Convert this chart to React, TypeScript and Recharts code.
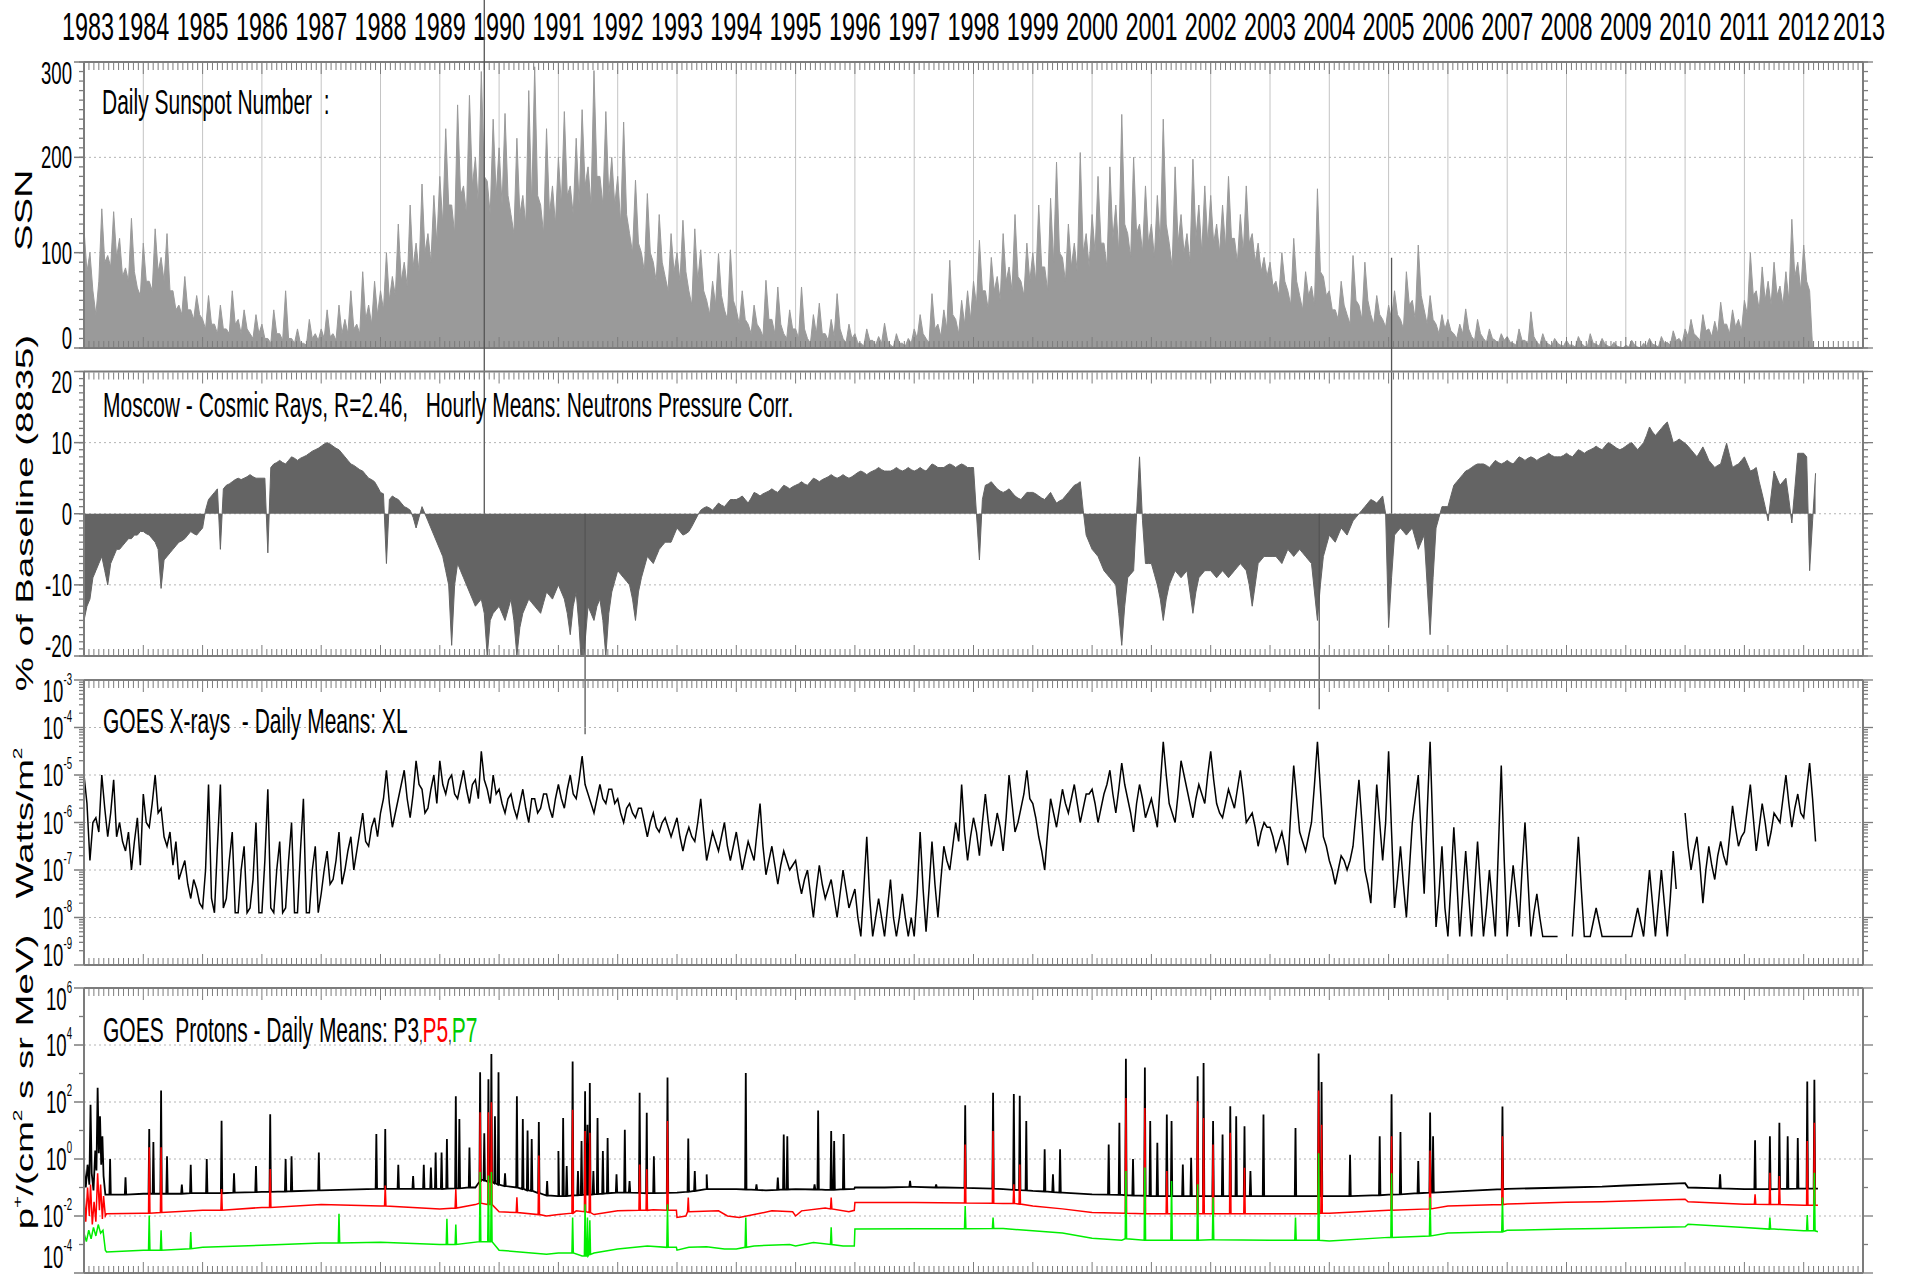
import React from "react";
import { ComposedChart, Area, Line, XAxis, YAxis, CartesianGrid, ReferenceLine } from "recharts";

const W = 1907;
const H = 1274;
const X_LEFT = 84;
const X_RIGHT = 1863;
const FONT = "'Liberation Sans', Arial, Helvetica, sans-serif";
const FRAME = "#7c7c7c";

// ---- axes ----
const YEARS = [
  1983, 1984, 1985, 1986, 1987, 1988, 1989, 1990, 1991, 1992, 1993, 1994, 1995, 1996, 1997, 1998,
  1999, 2000, 2001, 2002, 2003, 2004, 2005, 2006, 2007, 2008, 2009, 2010, 2011, 2012, 2013,
];
const MONTHS = Array.from({ length: 361 }, (_, i) => 1983 + i / 12);

const SSN_TICKS = [0, 100, 200, 300];
const SSN_MINOR = Array.from({ length: 31 }, (_, i) => i * 10);
const CR_TICKS = [-20, -10, 0, 10, 20];
const CR_MINOR = Array.from({ length: 41 }, (_, i) => i - 20);
const XR_TICKS = [1e-9, 1e-8, 1e-7, 1e-6, 1e-5, 1e-4, 1e-3];
const XR_MINOR = [-9, -8, -7, -6, -5, -4].flatMap((k) => [2, 3, 4, 5, 6, 7, 8, 9].map((m) => m * 10 ** k));
const PR_TICKS = [1e-4, 1e-2, 1, 1e2, 1e4, 1e6];
const PR_MINOR = [1e-3, 1e-1, 1e1, 1e3, 1e5];

// ---- data: main samples every 0.1 year from 1983.0, *_MID = samples half a step later ----
const SSN = [
  125, 100, 35, 146, 97, 143, 115, 84, 136, 63,
  110, 70, 125, 95, 120, 60, 45, 75, 40, 55,
  30, 55, 25, 45, 20, 60, 30, 40, 15, 35,
  25, 10, 40, 15, 60, 10, 20, 5, 30, 15,
  20, 40, 15, 45, 30, 60, 25, 80, 45, 70,
  60, 100, 75, 130, 90, 150, 110, 172, 120, 160,
  180, 230, 150, 255, 170, 265, 200, 290, 175, 240,
  210, 246, 140, 220, 160, 270, 295, 150, 230, 170,
  200, 248, 170, 220, 250, 190, 291, 180, 248, 200,
  180, 237, 120, 176, 100, 162, 90, 140, 75, 120,
  100, 134, 60, 125, 103, 50, 70, 99, 40, 103,
  40, 60, 25, 45, 20, 71, 30, 64, 15, 40,
  20, 64, 10, 35, 47, 15, 30, 57, 10, 25,
  15, 5, 20, 8, 12, 26, 3, 15, 5, 10,
  20, 35, 10, 57, 25, 40, 92, 30, 50, 60,
  70, 113, 60, 95, 75, 120, 85, 140, 70, 110,
  100, 150, 85, 157, 195, 95, 130, 110, 205, 120,
  140, 180, 110, 190, 150, 245, 120, 200, 130, 170,
  130, 160, 240, 110, 190, 140, 120, 198, 150, 170,
  160, 130, 150, 180, 115, 140, 170, 120, 110, 95,
  90, 70, 100, 60, 115, 55, 80, 65, 167, 75,
  60, 40, 70, 35, 97, 45, 90, 35, 55, 30,
  45, 60, 30, 80, 50, 108, 40, 55, 25, 35,
  30, 15, 25, 41, 12, 30, 10, 20, 8, 15,
  12, 5, 20, 8, 38, 6, 15, 4, 10, 3,
  8, 3, 12, 2, 15, 4, 10, 2, 6, 1,
  3, 8, 1, 5, 10, 3, 12, 6, 18, 10,
  20, 30, 12, 35, 20, 28, 48, 25, 40, 30,
  50, 100, 60, 85, 70, 90, 65, 80, 135, 90,
  108, 60, 0,
];
const SSN_MID = [
  80, 60, 70, 90, 85, 95, 75, 70, 80, 55,
  70, 60, 80, 70, 60, 40, 35, 40, 30, 35,
  20, 25, 15, 20, 15, 25, 15, 20, 10, 15,
  10, 5, 15, 8, 10, 5, 5, 3, 10, 8,
  10, 12, 8, 15, 15, 20, 15, 30, 25, 35,
  40, 50, 55, 70, 65, 85, 80, 100, 90, 110,
  130, 150, 120, 160, 140, 170, 150, 180, 140, 160,
  150, 160, 120, 140, 130, 150, 160, 120, 140, 130,
  150, 160, 140, 150, 170, 150, 180, 150, 160, 150,
  130, 140, 100, 110, 80, 100, 70, 90, 60, 80,
  70, 80, 45, 70, 60, 35, 45, 55, 30, 50,
  25, 30, 15, 25, 12, 30, 15, 25, 10, 20,
  10, 20, 5, 15, 15, 8, 12, 20, 5, 10,
  5, 2, 8, 3, 5, 8, 1, 5, 2, 5,
  10, 15, 5, 20, 12, 20, 35, 15, 25, 30,
  45, 60, 40, 60, 50, 70, 60, 75, 55, 70,
  70, 85, 60, 90, 100, 70, 85, 80, 100, 85,
  100, 110, 85, 115, 100, 130, 95, 120, 100, 110,
  95, 110, 130, 85, 110, 100, 90, 115, 100, 110,
  110, 100, 105, 115, 90, 100, 110, 90, 80, 75,
  65, 55, 70, 45, 70, 40, 55, 45, 80, 55,
  40, 30, 45, 25, 50, 30, 50, 25, 35, 22,
  30, 35, 20, 45, 30, 55, 25, 30, 15, 20,
  18, 10, 15, 20, 8, 15, 6, 10, 5, 8,
  6, 3, 8, 4, 12, 3, 6, 2, 5, 2,
  3, 1, 5, 1, 5, 2, 4, 1, 2, 0,
  1, 3, 0, 2, 4, 1, 5, 3, 8, 5,
  12, 15, 8, 18, 12, 15, 25, 15, 22, 18,
  35, 55, 40, 50, 45, 55, 45, 50, 75, 60,
  70, 0,
];

const CR = [
  -15, -12, -8, -6, -10, -6, -5, -4, -3.5, -3,
  -2.5, -3, -4, -10.5, -6, -5, -4, -3.5, -2.5, -3,
  -2, 2, 3, -5, 4, 4.5, 5, 5, 5.5, 5,
  5, -5.5, 7, 7.5, 7, 8, 7.5, 8, 8.5, 9,
  9.5, 10, 9.5, 9, 8, 7, 6.5, 6, 5, 4.5,
  3, -7, 2.5, 2, 1, 0.5, -2, 1, -1, -3,
  -5, -8, -18.5, -7, -9, -11, -13, -12, -20, -14,
  -13, -15, -12, -20, -14, -12, -13, -14, -11, -12,
  -10, -12, -17, -11, -23, -13, -15, -12, -20, -11,
  -8, -9, -10, -15, -9, -6, -7, -5, -4, -4,
  -2, -3, -2.5, -1, 0.5, 1, 0.5, 1.5, 1, 2,
  2, 2.5, 1.5, 3, 2.5, 3, 3.5, 3, 4, 3.5,
  4, 4.5, 4, 5, 4.5, 5, 5.5, 5, 5.5, 5,
  5.5, 6, 5.5, 6, 6.5, 6, 6, 6.5, 6, 6.5,
  6, 6.5, 6, 7, 6.5, 6.5, 7, 6.5, 7, 6.5,
  6.5, -6.5, 4, 4.5, 3.5, 3, 3.5, 2.5, 2, 3,
  3, 2.5, 2, 3, 1.5, 2, 3, 4, 4.5, -3,
  -5, -6, -8, -9, -10, -18.5, -9, -8, 8, -7,
  -7, -10, -15, -10, -8, -9, -8, -14, -9, -8,
  -8, -9, -8, -9, -8, -7, -8, -13, -7, -6,
  -6, -6, -7, -5, -6, -5, -6, -7, -15, -6,
  -3, -4, -2, -3, -1, 0, 1, 2, 1.5, 2.5,
  -16, -3, -2, -3, -2, -5, -3, -17, -2, 1,
  1, 4, 5, 6, 6.5, 7, 7, 6.5, 7.5, 7,
  7.5, 7, 8, 7.5, 8, 7.5, 8, 8.5, 8, 8,
  8.5, 8, 9, 8.5, 9, 9.5, 9, 10, 9.5, 9,
  9.5, 10, 9, 10, 12.2, 11, 12, 12.9, 10, 10.5,
  9.9, 9, 8, 9.4, 7.5, 6.5, 7, 9.9, 6.5, 7,
  8, 6, 6.5, 2.8, -1, 6, 4, 5, -1.3, 8.5,
  8.5, -8, 5.7,
];
const CR_MID = [
  -13, -9, -7, -8, -7, -5, -4.5, -3.5, -3, -2.5,
  -2.8, -3.5, -5, -6.5, -5.5, -4.5, -3.8, -3, -2.8, -2.5,
  0.5, 2.5, 3.5, 3.5, 4.2, 4.8, 4.8, 5.2, 5.2, 5,
  5, 6.5, 7.2, 7.2, 7.5, 7.8, 7.8, 8.2, 8.8, 9.2,
  9.8, 9.8, 9.2, 8.5, 7.5, 6.8, 6.2, 5.5, 4.8, 3.8,
  2.8, 2, 2.2, 1.5, 0.8, -0.5, -0.5, 0, -2, -4,
  -6, -10, -10, -8, -10, -12, -12.5, -14, -15, -13.5,
  -14, -13.5, -15, -16, -13, -12.5, -13.5, -12.5, -11.5, -11,
  -11, -14, -13, -16, -18, -14, -13, -15, -14, -9.5,
  -8.5, -9.5, -12, -11, -7.5, -6.5, -6, -4.5, -4, -3,
  -2.5, -2.8, -1.8, -0.2, 0.8, 0.8, 1, 1.2, 1.5, 2,
  2.2, 2, 2.2, 2.8, 2.8, 3.2, 3.2, 3.5, 3.8, 3.8,
  4.2, 4.2, 4.5, 4.8, 4.8, 5.2, 5.2, 5.2, 5.2, 5.2,
  5.8, 5.8, 5.8, 6.2, 6.2, 6, 6.2, 6.2, 6.2, 6.2,
  6.2, 6.2, 6.5, 6.8, 6.5, 6.8, 6.8, 6.8, 6.8, 6.5,
  0, 2, 4.2, 4, 3.2, 3.2, 3, 2.2, 2.5, 3,
  2.8, 2.2, 2.5, 2.2, 1.8, 2.5, 3.5, 4.2, 0.5, -4,
  -5.5, -7, -8.5, -9.5, -14, -13, -8.5, 0, -1, -7,
  -8.5, -12, -12, -9, -8.5, -8.5, -11, -11, -8.5, -8,
  -8.5, -8.5, -8.5, -8.5, -7.5, -7.5, -10, -10, -6.5, -6,
  -6, -6.5, -6, -5.5, -5.5, -5.5, -6.5, -11, -10, -4.5,
  -3.5, -3, -2.5, -2, -0.5, 0.5, 1.5, 1.8, 2, 0,
  -9, -2.5, -2.5, -2.5, -3.5, -4, -10, -9, -0.5, 1,
  2.5, 4.5, 5.5, 6.2, 6.8, 7, 6.8, 7, 7.2, 7.2,
  7.2, 7.5, 7.8, 7.8, 7.8, 7.8, 8.2, 8.2, 8, 8.2,
  8.2, 8.5, 8.8, 8.8, 9.2, 9.2, 9.5, 9.8, 9.2, 9.2,
  9.8, 9.5, 9.5, 11, 11.5, 11.5, 12.5, 11.5, 10.2, 10.2,
  9.5, 8.5, 8.7, 8.5, 7, 6.8, 8.5, 8.2, 6.8, 7.5,
  7, 6.2, 4.5, 1, 2.5, 5, 4.5, 2, 3.5, 8.5,
  8, -1,
];

// cosmic-ray excursions that run past the panel edges: [year, %]
const CR_SPIKES = [
  [1989.75, 75],
  [1991.45, -31],
  [2003.83, -27.5],
  [2005.05, 36],
];

// GOES X-ray daily means, log10(W/m^2); null = no data
const XRAY_EXP: (number | null)[] = [
  -5.0, -6.8, -5.9, -5.0, -6.3, -5.1, -6.0, -6.6, -7.0, -5.9,
  -5.4, -6.1, -5.0, -5.7, -6.5, -6.9, -7.2, -6.8, -7.6, -7.4,
  -7.8, -5.2, -7.9, -5.2, -7.6, -6.2, -7.9, -6.5, -7.8, -6.0,
  -7.9, -5.3, -7.9, -6.4, -7.8, -6.0, -7.9, -5.5, -7.9, -6.5,
  -7.5, -6.6, -7.2, -6.2, -7.0, -6.3, -6.6, -5.8, -6.5, -5.9,
  -5.8, -4.9, -6.1, -5.5, -4.9, -5.9, -4.7, -5.3, -5.7, -5.0,
  -4.7, -5.4, -5.0, -5.5, -4.9, -5.6, -5.1, -4.5, -5.3, -5.0,
  -5.3, -5.8, -5.4, -5.9, -5.3, -6.0, -5.5, -5.7, -5.4, -5.9,
  -5.2, -5.7, -5.0, -5.5, -4.6, -5.4, -5.8, -5.2, -5.6, -5.3,
  -5.5, -6.0, -5.6, -5.9, -5.7, -6.3, -5.8, -6.2, -5.9, -6.3,
  -5.9, -6.6, -6.1, -6.4, -5.5, -6.8, -6.2, -6.6, -6.0, -6.8,
  -6.2, -7.0, -6.4, -6.8, -5.6, -7.1, -6.5, -7.3, -6.6, -7.0,
  -6.8, -7.5, -7.0, -8.0, -6.9, -7.6, -7.2, -8.0, -7.0, -7.8,
  -7.4, -8.4, -6.3, -8.4, -7.6, -8.4, -7.2, -8.4, -7.5, -8.4,
  -8.4, -6.2, -8.3, -6.4, -8.0, -6.5, -7.0, -6.0, -5.2, -6.8,
  -5.9, -6.7, -5.4, -6.5, -5.8, -6.6, -5.0, -6.2, -5.7, -4.9,
  -5.6, -6.3, -7.0, -5.5, -6.1, -5.3, -5.8, -5.2, -6.0, -5.4,
  -5.3, -6.0, -5.4, -4.9, -5.8, -4.75, -5.5, -6.2, -5.2, -5.9,
  -5.5, -6.1, -4.3, -5.6, -6.0, -4.7, -5.3, -5.9, -5.2, -5.6,
  -4.5, -5.6, -5.9, -5.3, -5.7, -4.9, -6.0, -5.8, -6.5, -6.0,
  -6.1, -6.6, -6.2, -6.9, -4.8, -6.2, -6.6, -6.0, -4.3, -6.3,
  -6.8, -7.3, -6.7, -7.0, -6.5, -5.1, -7.0, -7.7, -5.2, -6.8,
  -4.5, -7.8, -6.5, -8.0, -6.0, -5.0, -7.5, -4.3, -8.2, -6.5,
  -8.4, -6.1, -8.4, -6.6, -8.4, -6.4, -8.4, -7.0, -8.4, -4.8,
  -8.4, -6.9, -8.2, -6.0, -8.4, -7.5, -8.4, -8.4, -8.4, null,
  null, -8.4, -6.3, -8.4, -8.4, -7.8, -8.4, -8.4, -8.4, -8.4,
  -8.4, -8.4, -7.8, -8.4, -7.0, -8.4, -7.0, -8.4, -6.6, null,
  -5.8, -7.0, -6.3, -7.7, -6.5, -7.2, -6.4, -6.9, -5.65, -6.5,
  -6.2, -5.2, -6.6, -5.6, -6.5, -5.8, -6.0, -5.0, -6.1, -5.4,
  -5.9, -4.75, -6.4,
];
const XRAY_MID: (number | null)[] = [
  -5.6, -6.0, -6.2, -5.7, -5.8, -6.3, -6.4, -6.2, -6.4, -6.9,
  -6.0, -5.6, -5.8, -6.3, -6.2, -6.4, -7.0, -7.3, -7.2, -7.7,
  -7.0, -7.6, -6.5, -7.8, -6.8, -7.9, -7.0, -7.9, -7.2, -7.9,
  -6.8, -7.8, -7.0, -7.9, -6.8, -7.9, -6.6, -7.9, -7.0, -7.9,
  -7.0, -7.3, -6.8, -7.3, -6.6, -7.0, -6.2, -6.4, -6.1, -6.3,
  -5.5, -5.6, -5.8, -5.2, -5.5, -5.4, -5.2, -5.8, -5.3, -5.6,
  -5.2, -5.1, -5.4, -5.2, -5.3, -5.2, -5.5, -5.1, -5.6, -5.4,
  -5.6, -5.5, -5.7, -5.6, -5.7, -5.5, -5.8, -5.4, -5.7, -5.5,
  -5.5, -5.3, -5.4, -5.1, -5.2, -5.6, -5.5, -5.5, -5.3, -5.6,
  -5.8, -5.7, -5.8, -5.7, -6.0, -6.0, -6.1, -6.0, -6.1, -6.1,
  -6.3, -6.3, -6.3, -6.0, -6.2, -6.5, -6.4, -6.3, -6.5, -6.5,
  -6.6, -6.7, -6.6, -6.2, -6.5, -6.8, -6.9, -6.9, -6.8, -6.9,
  -7.2, -7.2, -7.5, -7.4, -7.3, -7.4, -7.6, -7.5, -7.4, -7.6,
  -8.0, -7.4, -7.6, -8.0, -8.0, -7.8, -8.0, -8.0, -8.0, -8.0,
  -7.5, -7.4, -7.4, -7.3, -7.2, -6.8, -6.5, -6.4, -6.2, -6.3,
  -6.2, -6.0, -6.0, -6.2, -6.1, -5.9, -5.6, -6.0, -5.4, -5.5,
  -5.9, -6.6, -6.2, -5.8, -5.7, -5.6, -5.5, -5.6, -5.7, -5.4,
  -5.6, -5.7, -5.2, -5.4, -5.3, -5.2, -5.8, -5.6, -5.5, -5.7,
  -5.8, -5.2, -5.0, -5.8, -5.4, -5.0, -5.6, -5.5, -5.4, -5.0,
  -5.1, -5.8, -5.6, -5.5, -5.3, -5.4, -5.9, -6.1, -6.2, -6.1,
  -6.3, -6.4, -6.5, -5.8, -5.5, -6.4, -6.3, -5.2, -5.3, -6.5,
  -7.0, -7.0, -6.8, -6.8, -5.8, -6.0, -7.3, -6.4, -6.0, -6.0,
  -6.2, -7.2, -7.3, -7.0, -5.5, -6.3, -5.8, -6.3, -7.5, -7.8,
  -7.3, -7.2, -7.5, -7.5, -7.4, -7.4, -7.8, -7.7, -6.6, -6.8,
  -7.6, -7.5, -7.0, -7.2, -7.9, -8.0, -8.4, -8.4, -8.4, null,
  null, -7.4, -7.4, -8.4, -8.1, -8.1, -8.4, -8.4, -8.4, -8.4,
  -8.4, -8.1, -8.1, -7.7, -7.7, -7.7, -7.7, -7.6, -7.4, null,
  -6.5, -6.6, -6.9, -7.0, -6.9, -6.7, -6.7, -6.3, -6.1, -6.3,
  -5.7, -5.9, -6.1, -6.0, -6.2, -5.9, -5.5, -5.6, -5.7, -5.8,
  -5.3, -5.5,
];

// GOES protons, log10 flux. Base: [year, log]; spikes: [year, peak log, local base log]
const SPIKE_HALF = 0.012;
const P3_BASE = [
  [1983.0, -0.3], [1983.03, -1.0], [1983.06, -0.2], [1983.09, -0.9], [1983.11, 1.9], [1983.13, -0.5],
  [1983.16, -1.1], [1983.19, 0.3], [1983.21, -0.4], [1983.23, 2.5], [1983.25, 0.2], [1983.27, 1.5],
  [1983.29, -0.2], [1983.31, 0.8], [1983.33, -0.6], [1983.36, -1.25], [1984, -1.22], [1985, -1.2],
  [1986, -1.15], [1987, -1.1], [1988, -1.05], [1989, -1.05], [1989.6, -1.0], [1989.7, -0.7],
  [1990, -0.9], [1990.5, -1.1], [1991, -1.3], [1991.5, -1.25], [1992, -1.18], [1992.5, -1.2],
  [1993, -1.18], [1993.5, -1.06], [1994, -1.06], [1994.5, -1.1], [1995, -1.06], [1995.5, -1.08],
  [1995.99, -1.05], [1996, -1.0], [1996.5, -1.0], [1997, -0.98], [1997.5, -1.0], [1998, -1.02],
  [1998.5, -1.06], [1999, -1.12], [1999.5, -1.18], [2000, -1.24], [2000.5, -1.26], [2001, -1.3],
  [2002, -1.3], [2003, -1.3], [2004, -1.3], [2005, -1.25], [2006, -1.15], [2007, -1.05],
  [2008, -1.0], [2008.6, -0.97], [2009, -0.93], [2010, -0.85], [2010.05, -1.0], [2011, -1.06],
  [2012, -1.04], [2012.24, -1.04],
];
const P3_SPIKES = [
  [1983.44, 0, -1.25], [1983.7, -0.64, -1.25], [1984.1, 1.05, -1.22], [1984.17, 0.6, -1.22],
  [1984.3, 2.4, -1.22], [1984.4, 0.1, -1.22], [1984.65, -0.9, -1.22], [1984.8, -0.2, -1.2],
  [1985.07, 0, -1.2], [1985.32, 1.34, -1.2], [1985.53, -0.5, -1.18], [1985.9, -0.25, -1.16],
  [1986.14, 1.57, -1.15], [1986.4, 0, -1.14], [1986.5, 0.1, -1.13], [1986.96, 0.23, -1.1],
  [1987.93, 0.88, -1.05], [1988.08, 1.05, -1.05], [1988.3, -0.2, -1.05], [1988.55, -0.6, -1.05],
  [1988.73, -0.2, -1.05], [1988.85, -0.3, -1.05], [1988.93, 0.23, -1.05], [1989.03, 0.23, -1.05],
  [1989.12, 0.7, -1.04], [1989.27, 2.2, -1.03], [1989.33, 1.4, -1.03], [1989.5, 0.4, -1.0],
  [1989.68, 3.04, -0.8], [1989.75, 0.9, -0.75], [1989.82, 2.8, -0.8], [1989.87, 3.68, -0.8],
  [1989.93, 1.5, -0.85], [1989.99, 3.04, -0.9], [1990.1, -0.5, -0.95], [1990.3, 2.2, -1.0],
  [1990.4, 1.4, -1.05], [1990.48, 1.0, -1.1], [1990.55, 0.7, -1.12], [1990.67, 1.3, -1.2],
  [1990.81, -0.77, -1.28], [1991.0, 0.28, -1.3], [1991.08, 1.44, -1.3], [1991.14, -0.25, -1.3],
  [1991.24, 3.42, -1.28], [1991.33, -0.42, -1.27], [1991.39, 0.63, -1.26], [1991.45, 2.38, -1.25],
  [1991.49, 1.2, -1.25], [1991.53, 2.67, -1.25], [1991.59, -0.42, -1.24], [1991.66, 1.44, -1.23],
  [1991.75, 0.28, -1.22], [1991.83, 0.74, -1.2], [1991.98, -0.54, -1.18], [1992.12, 1.03, -1.18],
  [1992.2, -0.77, -1.18], [1992.37, 2.32, -1.19], [1992.49, 1.62, -1.2], [1992.61, 0.1, -1.2],
  [1992.84, 2.86, -1.19], [1993.19, 0.72, -1.15], [1993.3, -0.42, -1.12], [1993.5, -0.54, -1.06],
  [1994.16, 3.02, -1.07], [1994.34, -0.89, -1.08], [1994.7, -0.65, -1.08], [1994.8, 0.86, -1.07],
  [1994.86, 0.8, -1.07], [1995.32, -0.89, -1.07], [1995.38, 1.7, -1.07], [1995.6, 0.98, -1.08],
  [1995.65, 0.63, -1.08], [1995.81, 0.88, -1.06], [1996.93, -0.77, -0.98], [1997.37, -0.89, -1.0],
  [1997.86, 1.89, -1.01], [1998.33, 2.32, -1.04], [1998.68, 2.28, -1.08], [1998.78, 2.22, -1.09],
  [1998.89, 1.33, -1.1], [1999.2, 0.34, -1.14], [1999.34, -0.54, -1.16], [1999.46, 0.34, -1.18],
  [2000.28, 0.51, -1.25], [2000.46, 1.27, -1.26], [2000.57, 3.52, -1.27], [2000.69, 0, -1.28],
  [2000.89, 3.21, -1.29], [2000.98, 1.33, -1.3], [2001.1, 0.57, -1.3], [2001.26, 1.56, -1.3],
  [2001.34, 1.33, -1.3], [2001.53, -0.19, -1.3], [2001.67, 0.04, -1.3], [2001.78, 2.9, -1.3],
  [2001.88, 3.37, -1.3], [2002.04, 1.33, -1.3], [2002.2, 0.86, -1.3], [2002.33, 1.85, -1.3],
  [2002.43, 1.5, -1.3], [2002.57, 1.15, -1.3], [2002.67, -0.42, -1.3], [2002.89, 1.56, -1.3],
  [2003.43, 1.09, -1.3], [2003.82, 3.7, -1.3], [2003.87, 2.7, -1.3], [2004.35, 0.15, -1.3],
  [2004.85, 0.8, -1.27], [2005.05, 2.27, -1.25], [2005.2, 0.95, -1.24], [2005.5, -0.07, -1.2],
  [2005.7, 1.63, -1.18], [2005.75, 0.8, -1.18], [2006.92, 1.84, -1.06], [2010.59, -0.54, -1.03],
  [2011.18, 0.66, -1.06], [2011.43, 0.8, -1.06], [2011.59, 1.27, -1.05], [2011.73, 0.8, -1.05],
  [2011.9, 0.74, -1.04], [2012.06, 2.72, -1.04], [2012.18, 2.78, -1.04],
];

const P5_BASE = [
  [1983.0, -1.2], [1983.03, -2.2], [1983.06, -1.0], [1983.09, -2.0], [1983.11, -0.9], [1983.14, -2.3],
  [1983.17, -1.5], [1983.2, -2.2], [1983.23, -0.5], [1983.26, -1.8], [1983.28, -0.9], [1983.31, -2.1],
  [1983.33, -1.3], [1983.36, -2.0], [1983.38, -1.92], [1984, -1.9], [1985, -1.8], [1986, -1.7],
  [1987, -1.6], [1988, -1.65], [1989, -1.75], [1989.6, -1.6], [1990, -1.85], [1990.8, -2.0],
  [1991, -1.95], [1991.3, -1.82], [1991.6, -1.95], [1992, -1.82], [1992.6, -1.78], [1992.99, -1.8],
  [1993.0, -2.05], [1993.15, -2.0], [1993.2, -1.82], [1993.7, -1.82], [1993.85, -2.0], [1994.05, -2.05],
  [1994.3, -1.95], [1994.6, -1.82], [1994.95, -1.85], [1995.0, -2.0], [1995.1, -1.82], [1995.5, -1.72],
  [1995.9, -1.85], [1995.99, -1.8], [1996.0, -1.53], [1997, -1.53], [1998.5, -1.56], [1999, -1.65],
  [1999.5, -1.75], [2000, -1.88], [2001, -1.92], [2002, -1.92], [2003, -1.92], [2004, -1.9],
  [2005, -1.8], [2006, -1.65], [2007, -1.58], [2008, -1.52], [2008.6, -1.5], [2010, -1.41],
  [2010.05, -1.5], [2011, -1.59], [2012, -1.62], [2012.24, -1.62],
];
const P5_SPIKES = [
  [1984.1, 0.41, -1.9], [1984.3, 0.41, -1.88], [1985.32, -1.05, -1.8], [1986.14, -0.35, -1.7],
  [1988.08, -0.93, -1.65], [1989.27, -1.05, -1.72], [1989.68, 1.64, -1.55], [1989.82, 1.64, -1.6],
  [1989.87, 1.99, -1.6], [1990.3, -1.34, -1.88], [1990.67, 0.12, -1.95], [1991.24, 1.73, -1.9],
  [1991.45, 0.98, -1.85], [1991.53, 0.92, -1.88], [1992.37, -0.19, -1.8], [1992.49, -0.36, -1.8],
  [1992.84, 1.33, -1.8], [1993.19, -1.35, -1.85], [1995.6, -1.35, -1.75], [1997.86, 0.51, -1.54],
  [1998.33, 0.98, -1.55], [1998.68, -0.89, -1.56], [1998.78, -0.19, -1.58], [2000.57, 2.14, -1.9],
  [2000.89, 1.79, -1.92], [2001.26, -0.42, -1.92], [2001.78, 2.03, -1.92], [2001.88, 1.44, -1.92],
  [2002.04, 0.51, -1.92], [2002.33, 0.92, -1.92], [2002.57, -0.31, -1.92], [2003.82, 2.4, -1.92],
  [2003.87, 1.2, -1.9], [2005.05, 0.8, -1.8], [2005.7, 0.3, -1.75], [2006.92, 0.8, -1.6],
  [2011.18, -1.24, -1.59], [2011.43, -0.48, -1.6], [2011.59, -0.6, -1.6], [2012.06, 0.63, -1.62],
  [2012.18, 1.27, -1.62],
];

const P7_BASE = [
  [1983.0, -2.6], [1983.04, -2.9], [1983.08, -2.5], [1983.12, -2.8], [1983.16, -2.4], [1983.2, -2.7],
  [1983.24, -2.3], [1983.28, -2.6], [1983.32, -2.5], [1983.36, -3.2], [1983.38, -3.26], [1984, -3.2],
  [1985, -3.1], [1986, -3.03], [1987, -2.95], [1988, -2.92], [1989, -3.0], [1990, -3.2],
  [1990.8, -3.34], [1991, -3.3], [1991.4, -3.4], [1991.6, -3.3], [1992, -3.16], [1992.5, -3.05],
  [1992.99, -3.1], [1993.0, -3.2], [1993.2, -3.1], [1993.5, -3.08], [1993.8, -3.16], [1994, -3.16],
  [1994.3, -3.05], [1994.9, -3.0], [1995, -3.05], [1995.3, -2.93], [1995.8, -3.05], [1995.99, -3.05],
  [1996.0, -2.46], [1997, -2.45], [1998.5, -2.44], [1999, -2.52], [1999.5, -2.6], [2000, -2.78],
  [2000.5, -2.85], [2001, -2.85], [2002, -2.83], [2003, -2.85], [2004, -2.88], [2005, -2.75],
  [2006, -2.6], [2007, -2.5], [2008, -2.46], [2008.6, -2.44], [2010, -2.38], [2010.05, -2.29],
  [2011, -2.4], [2011.5, -2.46], [2012, -2.52], [2012.24, -2.55],
];
const P7_SPIKES = [
  [1984.1, -1.98, -3.2], [1984.3, -2.5, -3.2], [1984.8, -2.56, -3.15], [1987.3, -1.92, -2.95],
  [1989.12, -2.1, -3.0], [1989.27, -2.3, -3.0], [1989.68, -0.46, -2.9], [1989.82, -0.58, -2.9],
  [1989.87, -0.46, -2.9], [1991.24, -2.05, -3.3], [1991.45, -1.59, -3.4], [1991.49, -2.05, -3.4],
  [1991.53, -2.15, -3.35], [1992.84, -1.59, -3.1], [1994.16, -2.05, -3.1], [1995.6, -2.4, -3.0],
  [1997.86, -1.65, -2.45], [1998.33, -2.05, -2.44], [2000.57, -0.42, -2.8], [2000.89, -0.3, -2.85],
  [2001.34, -0.77, -2.85], [2001.78, -0.89, -2.85], [2002.04, -1.35, -2.83], [2003.43, -2.05, -2.85],
  [2003.82, 0.2, -2.85], [2005.05, -0.5, -2.75], [2005.7, -1.35, -2.7], [2006.92, -1.35, -2.55],
  [2011.43, -2.05, -2.46], [2012.06, -1.97, -2.52], [2012.18, -0.48, -2.52],
];

// ---- build tables ----
const r3 = (x: number) => Math.round(x * 1000) / 1000;
function interleave(main: (number | null)[], mid: (number | null)[]) {
  const out: { t: number; v: number | null }[] = [];
  main.forEach((v, i) => {
    const t = 1983 + i * 0.1;
    out.push({ t: r3(t), v });
    if (i < mid.length) out.push({ t: r3(t + 0.05), v: mid[i] });
  });
  return out;
}

const ssnData = interleave(SSN, SSN_MID);
const crData = interleave(CR, CR_MID);
const xrData = interleave(XRAY_EXP, XRAY_MID).map((d) => ({ t: d.t, v: d.v === null ? null : 10 ** d.v }));

function withSpikes(base: number[][], spikes: number[][]) {
  const pts = base.map(([t, l]) => ({ t, l }));
  spikes.forEach(([t, peak, b]) => {
    pts.push({ t: t - SPIKE_HALF, l: b }, { t, l: peak }, { t: t + SPIKE_HALF, l: b });
  });
  pts.sort((a, b) => a.t - b.t);
  return pts.map((p) => ({ t: p.t, v: 10 ** p.l }));
}
const p3Data = withSpikes(P3_BASE, P3_SPIKES);
const p5Data = withSpikes(P5_BASE, P5_SPIKES);
const p7Data = withSpikes(P7_BASE, P7_SPIKES);

// ---- tick renderers ----
const yearTick = (p: any) => {
  const v = p.payload.value;
  const dx = v === 1983 ? 4 : v === 2013 ? -4 : 0;
  return (
    <text transform={`translate(${p.x + dx},40) scale(0.6,1)`} textAnchor="middle" fontSize={39} fontFamily={FONT} fill="#000">
      {v}
    </text>
  );
};

const monthTick = (dir: number) => (p: any) => {
  const v = p.payload.value;
  const len = Math.abs(v - Math.round(v)) < 1e-6 ? 11 : 7;
  return <line x1={p.x} x2={p.x} y1={p.y} y2={p.y + dir * len} stroke={FRAME} strokeWidth={1} />;
};

const sideTick = (dir: number, len: number) => (p: any) => (
  <line x1={p.x} x2={p.x + dir * len} y1={p.y} y2={p.y} stroke={FRAME} strokeWidth={1.3} />
);

const labelTick = (lo: number, hi: number, log: boolean, loShift: number) => (p: any) => {
  const v = p.payload.value;
  let cy = p.y;
  if (v === hi) cy += 10.5;
  if (v === lo) cy -= loShift;
  const exp = Math.round(Math.log10(v));
  return (
    <g>
      <line x1={p.x - 10} x2={p.x} y1={p.y} y2={p.y} stroke={FRAME} strokeWidth={1.5} />
      <text transform={`translate(72,${cy + 11}) scale(0.6,1)`} textAnchor="end" fontSize={31} fontFamily={FONT} fill="#000">
        {log ? (
          <>
            10
            <tspan fontSize={16} dy={-17}>
              {exp}
            </tspan>
          </>
        ) : (
          v
        )}
      </text>
    </g>
  );
};

interface PanelProps {
  top: number;
  bottom: number;
  log?: boolean;
  domain: [number, number];
  major: number[];
  minor: number[];
  showYears?: boolean;
  loShift?: number;
  data?: any[];
  children: React.ReactNode;
}

function Panel({ top, bottom, log, domain, major, minor, showYears, loShift = 10.5, data, children }: PanelProps) {
  const scale = log ? "log" : "linear";
  const yc = { type: "number" as const, domain, scale: scale as any, allowDataOverflow: true, width: 1, mirror: true, interval: 0 as const, tickSize: 0, tickMargin: 0, tickLine: false };
  const xc = { type: "number" as const, dataKey: "t", domain: [1983, 2013] as [number, number], allowDataOverflow: true, height: 1, mirror: true, interval: 0 as const, tickSize: 0, tickMargin: 0, tickLine: false };
  const frame = { stroke: FRAME, strokeWidth: 2 };
  return (
    <div style={{ position: "absolute", left: 0, top: 0 }}>
      <ComposedChart
        width={W}
        height={H}
        data={data}
        margin={{ top, bottom: H - bottom, left: X_LEFT, right: W - X_RIGHT }}
      >
        <CartesianGrid horizontal={false} stroke="#c4c4c4" strokeWidth={1} />
        <CartesianGrid vertical={false} stroke="#b4b4b4" strokeWidth={1} strokeDasharray="2 3" />
        <XAxis {...xc} orientation="top" ticks={YEARS} axisLine={frame} tick={showYears ? yearTick : false} />
        <XAxis {...xc} xAxisId="mt" orientation="top" ticks={MONTHS} axisLine={false} tick={monthTick(1)} />
        <XAxis {...xc} xAxisId="mb" orientation="bottom" ticks={MONTHS} axisLine={frame} tick={monthTick(-1)} />
        <YAxis {...yc} orientation="left" ticks={major} axisLine={frame} tick={labelTick(domain[0], domain[1], !!log, loShift)} />
        <YAxis {...yc} yAxisId="lm" orientation="left" ticks={minor} axisLine={false} tick={sideTick(-1, 6)} />
        <YAxis {...yc} yAxisId="r" orientation="right" ticks={major} axisLine={frame} tick={sideTick(1, 10)} />
        <YAxis {...yc} yAxisId="rm" orientation="right" ticks={minor} axisLine={false} tick={sideTick(1, 6)} />
        {children}
      </ComposedChart>
    </div>
  );
}

const P = { ssn: [62, 348], cr: [371.5, 656], xr: [680, 965], pr: [988, 1273] };

export default function App() {
  return (
    <div style={{ position: "absolute", left: 0, top: 0, width: W, height: H, background: "#fff", overflow: "hidden" }}>
      <Panel top={P.ssn[0]} bottom={P.ssn[1]} domain={[0, 300]} major={SSN_TICKS} minor={SSN_MINOR} showYears data={ssnData}>
        <Area dataKey="v" type="linear" stroke="#9a9a9a" strokeWidth={1} fill="#9a9a9a" fillOpacity={1} baseValue={0} dot={false} activeDot={false} isAnimationActive={false} />
      </Panel>
      <Panel top={P.cr[0]} bottom={P.cr[1]} domain={[-20, 20]} major={CR_TICKS} minor={CR_MINOR} data={crData}>
        <Area dataKey="v" type="linear" stroke="#646464" strokeWidth={1} fill="#646464" fillOpacity={1} baseValue={0} dot={false} activeDot={false} isAnimationActive={false} />
        {CR_SPIKES.map(([t, v]) => (
          <ReferenceLine key={t} segment={[{ x: t, y: 0 }, { x: t, y: v }]} stroke="#555" strokeWidth={1.3} ifOverflow="visible" />
        ))}
      </Panel>
      <Panel top={P.xr[0]} bottom={P.xr[1]} log domain={[1e-9, 1e-3]} major={XR_TICKS} minor={XR_MINOR} data={xrData}>
        <Line dataKey="v" type="linear" stroke="#000" strokeWidth={1.5} dot={false} activeDot={false} connectNulls={false} isAnimationActive={false} />
      </Panel>
      <Panel top={P.pr[0]} bottom={P.pr[1]} log domain={[1e-4, 1e6]} major={PR_TICKS} minor={PR_MINOR} loShift={16}>
        <Line data={p3Data} dataKey="v" type="linear" stroke="#000" strokeWidth={1.8} dot={false} activeDot={false} isAnimationActive={false} />
        <Line data={p5Data} dataKey="v" type="linear" stroke="#ff0000" strokeWidth={1.5} dot={false} activeDot={false} isAnimationActive={false} />
        <Line data={p7Data} dataKey="v" type="linear" stroke="#00ee00" strokeWidth={1.5} dot={false} activeDot={false} isAnimationActive={false} />
      </Panel>

      <svg width={W} height={H} style={{ position: "absolute", left: 0, top: 0, pointerEvents: "none" }}>
        <g fontFamily={FONT} fill="#000">
          <text xmlSpace="preserve" transform="translate(102,113.5) scale(0.6,1)" fontSize={35}>{"Daily Sunspot Number  :"}</text>
          <text xmlSpace="preserve" transform="translate(103,416.7) scale(0.6,1)" fontSize={35}>
            {"Moscow - Cosmic Rays, R=2.46,   Hourly Means: Neutrons Pressure Corr."}
          </text>
          <text xmlSpace="preserve" transform="translate(103,733) scale(0.6,1)" fontSize={35}>{"GOES X-rays  - Daily Means: XL"}</text>
          <text xmlSpace="preserve" transform="translate(103,1041.7) scale(0.6,1)" fontSize={35}>
            {"GOES  Protons - Daily Means: P3"}
            <tspan fontSize={20}>,</tspan>
            <tspan fill="#ff0000">P5</tspan>
            <tspan fontSize={20}>,</tspan>
            <tspan fill="#00cc00">P7</tspan>
          </text>

          <text transform="translate(32,210) rotate(-90) scale(1.65,1)" textAnchor="middle" fontSize={24}>SSN</text>
          <text xmlSpace="preserve" transform="translate(33,513) rotate(-90) scale(1.6,1)" textAnchor="middle" fontSize={24}>{"% of Baseline (8835)"}</text>
          <text transform="translate(33,823) rotate(-90) scale(1.6,1)" textAnchor="middle" fontSize={24}>
            Watts/m<tspan fontSize={13} dy={-11}>2</tspan>
          </text>
          <text xmlSpace="preserve" transform="translate(33,1082) rotate(-90) scale(1.6,1)" textAnchor="middle" fontSize={24}>
            p<tspan fontSize={13} dy={-11}>+</tspan>
            <tspan dy={11}>/(cm</tspan>
            <tspan fontSize={13} dy={-11}>2</tspan>
            <tspan dy={11}>{" s sr MeV)"}</tspan>
          </text>
        </g>
      </svg>
    </div>
  );
}
